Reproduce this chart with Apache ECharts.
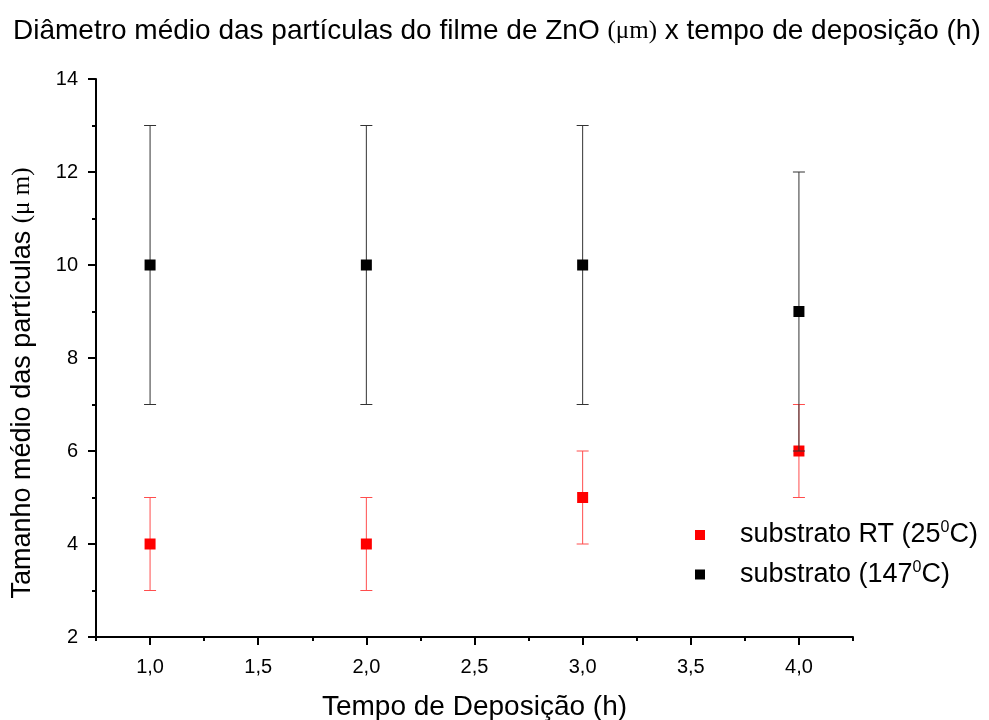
<!DOCTYPE html>
<html><head><meta charset="utf-8">
<script src="https://cdn.jsdelivr.net/npm/echarts@6/dist/echarts.min.js"></script>
<style>html,body{margin:0;padding:0;background:#fff}#c{width:989px;height:720px}</style>
</head><body><div id="c"></div>
<script>
const xValues = [1, 2, 3, 4];
const redMean = [4, 4, 5, 6];
const redErr = [1, 1, 1, 1];
const blackMean = [10, 10, 10, 9];
const blackErr = [3, 3, 3, 3];
const xMajorTicks = [1, 1.5, 2, 2.5, 3, 3.5, 4];
const xMinorTicks = [0.75, 1.25, 1.75, 2.25, 2.75, 3.25, 3.75, 4.25];
const seriesNames = ['substrato RT (25{s|0}C)', 'substrato (147{s|0}C)'];

const FONT = 'Liberation Sans, Arial, sans-serif';
const SERIF = 'Liberation Serif, Times New Roman, serif';
const chart = echarts.init(document.getElementById('c'));

function errData(mean, err) { return xValues.map((x, i) => [x, mean[i] - err[i], mean[i] + err[i]]); }
function errSeries(name, mean, err, color, z) {
  return {
    type: 'custom', name: name + '_err', data: errData(mean, err), z: z,
    renderItem: function (params, api) {
      const lo = api.coord([api.value(0), api.value(1)]);
      const hi = api.coord([api.value(0), api.value(2)]);
      const w = 6;
      const st = { stroke: color, lineWidth: 1 };
      return { type: 'group', children: [
        { type: 'line', shape: { x1: lo[0], y1: lo[1], x2: hi[0], y2: hi[1] }, style: st },
        { type: 'line', shape: { x1: lo[0] - w, y1: lo[1], x2: lo[0] + w, y2: lo[1] }, style: st },
        { type: 'line', shape: { x1: hi[0] - w, y1: hi[1], x2: hi[0] + w, y2: hi[1] }, style: st }
      ]};
    },
    silent: true
  };
}

const labelFmt = v => String(v.toFixed(1)).replace('.', ',');

chart.setOption({
  animation: false,
  backgroundColor: '#fff',
  title: {
    text: 'Diâmetro médio das partículas do filme de ZnO {m|(μm)} x tempo de deposição (h)',
    left: 8, top: 12,
    textStyle: { fontFamily: FONT, fontWeight: 'normal', fontSize: 28, color: '#000',
      rich: { m: { fontFamily: SERIF, fontSize: 25, color: '#000' } } }
  },
  grid: { left: 96, right: 136, top: 79, bottom: 83, outerBoundsMode: 'none' },
  legend: {
    orient: 'vertical', left: 690, top: 515, itemGap: 11,
    itemWidth: 10, itemHeight: 10, icon: 'rect',
    data: [{ name: seriesNames[0] }, { name: seriesNames[1] }],
    formatter: n => n,
    textStyle: { fontFamily: FONT, fontSize: 27, color: '#000', padding: [0, 0, 0, 30],
      rich: { s: { fontSize: 16, verticalAlign: 'bottom', padding: [0, 0, 14, 0], fontFamily: FONT, color: '#000' } } }
  },
  xAxis: [{
    type: 'value', min: 0.75, max: 4.25,
    name: 'Tempo de Deposição (h)', nameLocation: 'middle', nameGap: 56,
    nameTextStyle: { fontFamily: FONT, fontSize: 28, color: '#000' },
    axisLine: { show: true, onZero: false, lineStyle: { color: '#000', width: 2 } },
    axisTick: { show: true, length: 8, customValues: xMajorTicks, lineStyle: { color: '#000', width: 2 } },
    axisLabel: { customValues: xMajorTicks, formatter: labelFmt, fontFamily: FONT, fontSize: 20, color: '#000', margin: 20 },
    splitLine: { show: false }
  }, {
    type: 'value', min: 0.75, max: 4.25, position: 'bottom',
    axisLine: { show: false },
    axisTick: { show: true, length: 4, customValues: xMinorTicks, lineStyle: { color: '#000', width: 2 } },
    axisLabel: { show: false },
    splitLine: { show: false }
  }],
  yAxis: {
    type: 'value', min: 2, max: 14, interval: 2,
    name: 'Tamanho médio das partículas {m|(μ m)}', nameLocation: 'middle', nameGap: 60,
    nameTextStyle: { fontFamily: FONT, fontSize: 27, color: '#000', padding: [0, 50, 0, 0],
      rich: { m: { fontFamily: SERIF, fontSize: 25, color: '#000' } } },
    axisLine: { show: true, onZero: false, lineStyle: { color: '#000', width: 2 } },
    axisTick: { show: true, length: 8, lineStyle: { color: '#000', width: 2 } },
    minorTick: { show: true, splitNumber: 2, length: 4, lineStyle: { color: '#000', width: 2 } },
    axisLabel: { fontFamily: FONT, fontSize: 20, color: '#000', margin: 18 },
    splitLine: { show: false }, minorSplitLine: { show: false }
  },
  series: [
    errSeries('red', redMean, redErr, '#ff4d4d', 2),
    { type: 'scatter', name: seriesNames[0], symbol: 'rect', symbolSize: 11, z: 3,
      itemStyle: { color: '#ff0000', opacity: 1 }, data: xValues.map((x, i) => [x, redMean[i]]) },
    errSeries('black', blackMean, blackErr, '#333333', 4),
    { type: 'scatter', name: seriesNames[1], symbol: 'rect', symbolSize: 11, z: 5,
      itemStyle: { color: '#000000', opacity: 1 }, data: xValues.map((x, i) => [x, blackMean[i]]) }
  ]
});
</script></body></html>
